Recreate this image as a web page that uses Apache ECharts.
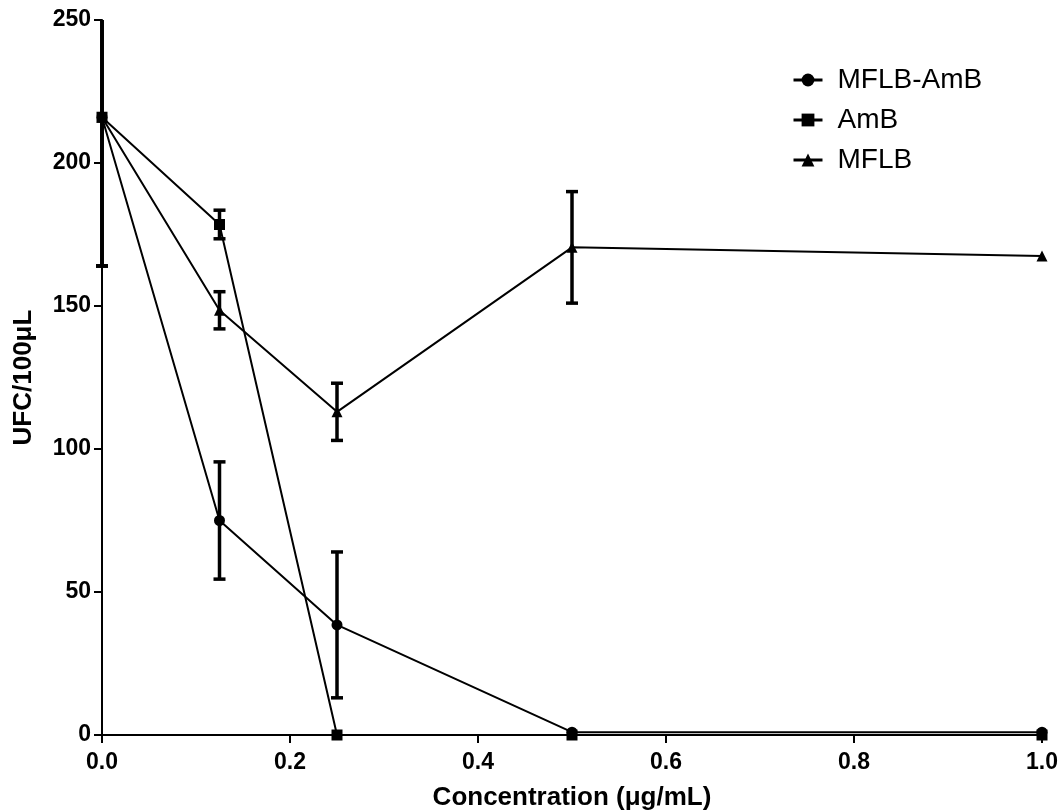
<!DOCTYPE html>
<html>
<head>
<meta charset="utf-8">
<script src="https://cdn.jsdelivr.net/npm/echarts@6/dist/echarts.min.js"></script>
<style>
  html, body { margin: 0; padding: 0; background: #fff; }
  #chart { width: 1061px; height: 811px; }
</style>
</head>
<body>
<div id="chart"></div>
<script>
// concentrations (µg/mL)
var conc = [0, 0.125, 0.25, 0.5, 1.0];

// UFC/100µL means and error (SD)
var mflbAmb    = [216, 75, 38.5, 1, 1];
var mflbAmbErr = [52, 20.5, 25.5, 0, 0];
var amb        = [216, 178.5, 0, 0, 0];
var ambErr     = [52, 5, 0, 0, 0];
var mflb       = [216, 148.5, 113, 170.5, 167.5];
var mflbErr    = [52, 6.5, 10, 19.5, 0];

var yTicks = [0, 50, 100, 150, 200, 250];
var xTicks = [0, 0.2, 0.4, 0.6, 0.8, 1.0];

var FONT = 'Arial, "Liberation Sans", sans-serif';
var Y_MAX = yTicks[yTicks.length - 1];

function pairs(ys) {
  return conc.map(function (x, i) { return [x, ys[i]]; });
}

function errData(ys, errs) {
  var out = [];
  conc.forEach(function (x, i) {
    if (errs[i] > 0) out.push([x, ys[i] - errs[i], ys[i] + errs[i]]);
  });
  return out;
}

// vertical error bar with caps, top clamped to the axis max
function renderErr(params, api) {
  var x = api.value(0);
  var hiVal = api.value(2);
  var clipped = hiVal > Y_MAX;
  var lo = api.coord([x, api.value(1)]);
  var hi = api.coord([x, clipped ? Y_MAX : hiVal]);
  var w = 6;
  var style = { stroke: '#000', lineWidth: 3.5, fill: null };
  var children = [
    { type: 'line', shape: { x1: lo[0], y1: lo[1], x2: hi[0], y2: hi[1] }, style: style },
    { type: 'line', shape: { x1: lo[0] - w, y1: lo[1], x2: lo[0] + w, y2: lo[1] }, style: style }
  ];
  if (!clipped) {
    children.push({ type: 'line', shape: { x1: hi[0] - w, y1: hi[1], x2: hi[0] + w, y2: hi[1] }, style: style });
  }
  return { type: 'group', children: children };
}

function lineSeries(name, ys, symbol) {
  return {
    name: name,
    type: 'line',
    data: pairs(ys),
    symbol: symbol,
    symbolSize: 11,
    z: 3,
    lineStyle: { color: '#000', width: 2 },
    itemStyle: { color: '#000' }
  };
}

function errSeries(ys, errs) {
  return {
    type: 'custom',
    renderItem: renderErr,
    data: errData(ys, errs),
    clip: false,
    z: 2,
    silent: true
  };
}

var chart = echarts.init(document.getElementById('chart'));
chart.setOption({
  animation: false,
  backgroundColor: '#fff',
  grid: { left: 102, right: 19, top: 20, bottom: 76, outerBoundsMode: 'none', containLabel: false },
  legend: {
    left: 787,
    top: 61,
    orient: 'vertical',
    itemWidth: 29,
    itemHeight: 16,
    itemGap: 12,
    data: ['MFLB-AmB', 'AmB', 'MFLB'],
    lineStyle: { width: 3 },
    textStyle: { fontFamily: FONT, fontSize: 28, color: '#000', lineHeight: 28, padding: [0, 0, 0, 10] }
  },
  xAxis: {
    type: 'value',
    min: xTicks[0],
    max: xTicks[xTicks.length - 1],
    interval: 0.2,
    name: 'Concentration (\u03bcg/mL)',
    nameLocation: 'middle',
    nameGap: 50,
    nameTextStyle: { fontFamily: FONT, fontSize: 26, fontWeight: 'bold', color: '#000' },
    axisLine: { onZero: false, lineStyle: { color: '#000', width: 2 } },
    axisTick: { show: true, length: 8, lineStyle: { color: '#000', width: 2 } },
    axisLabel: {
      margin: 16,
      fontFamily: FONT, fontSize: 23, fontWeight: 'bold', color: '#000',
      formatter: function (v) { return v.toFixed(1); }
    },
    splitLine: { show: false }
  },
  yAxis: {
    type: 'value',
    min: yTicks[0],
    max: Y_MAX,
    interval: 50,
    name: 'UFC/100\u03bcL',
    nameLocation: 'middle',
    nameGap: 65,
    nameTextStyle: { fontFamily: FONT, fontSize: 26, fontWeight: 'bold', color: '#000' },
    axisLine: { show: true, lineStyle: { color: '#000', width: 2 } },
    axisTick: { show: true, length: 8, lineStyle: { color: '#000', width: 2 } },
    axisLabel: { margin: 11, fontFamily: FONT, fontSize: 23, fontWeight: 'bold', color: '#000' },
    splitLine: { show: false }
  },
  series: [
    errSeries(mflbAmb, mflbAmbErr),
    errSeries(amb, ambErr),
    errSeries(mflb, mflbErr),
    lineSeries('MFLB-AmB', mflbAmb, 'circle'),
    lineSeries('AmB', amb, 'rect'),
    lineSeries('MFLB', mflb, 'triangle')
  ]
});
</script>
</body>
</html>
